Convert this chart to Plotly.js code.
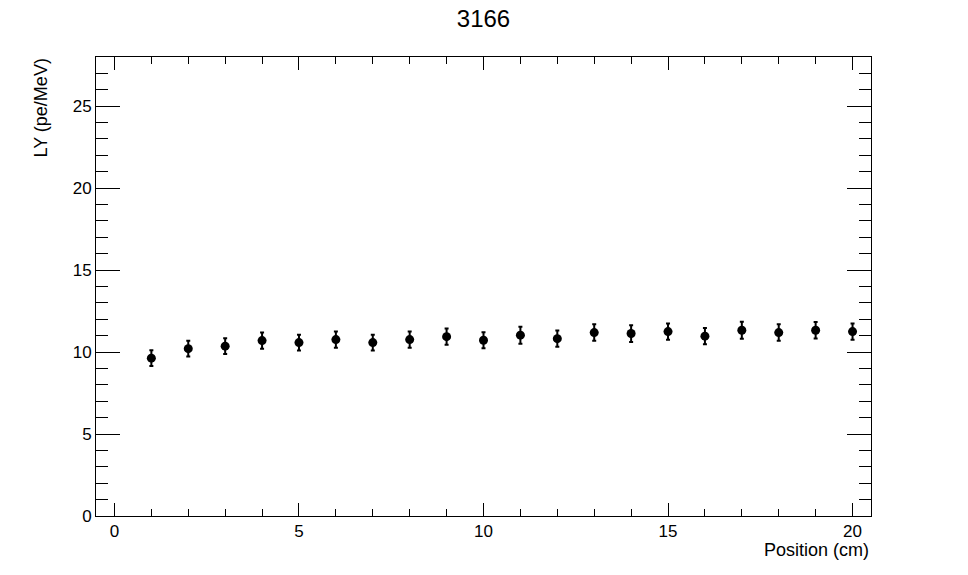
<!DOCTYPE html>
<html>
<head>
<meta charset="utf-8">
<script src="https://cdn.plot.ly/plotly-3.0.1.min.js"></script>
<style>html,body{margin:0;padding:0;background:#fff;}#chart{width:968px;height:575px;}</style>
</head>
<body>
<div id="chart"></div>
<script>
const positions = [1,2,3,4,5,6,7,8,9,10,11,12,13,14,15,16,17,18,19,20];
const lightYield = [9.63,10.21,10.36,10.70,10.58,10.76,10.58,10.76,10.94,10.72,11.03,10.82,11.19,11.13,11.25,10.97,11.33,11.19,11.33,11.25];
const lyError = [0.48,0.48,0.48,0.49,0.48,0.50,0.48,0.49,0.50,0.49,0.52,0.49,0.50,0.51,0.50,0.50,0.52,0.50,0.50,0.50];
const chartTitle = "3166";
const xTitle = "Position (cm)";
const yTitle = "LY (pe/MeV)";

const font = "Liberation Sans, Arial, Helvetica, sans-serif";

const trace = {
  x: positions, y: lightYield, type: 'scatter', mode: 'markers',
  marker: {color: '#000', size: 9, symbol: 'circle'},
  error_y: {type: 'data', array: lyError, visible: true, color: '#000', thickness: 2, width: 2},
  showlegend: false
};

const axisCommon = {
  showgrid: false, zeroline: false, showline: true, linecolor: '#000', linewidth: 1,
  mirror: 'allticks', ticks: 'inside', tickcolor: '#000', tickwidth: 1,
  tickfont: {family: font, size: 17, color: '#000'}
};

const layout = {
  width: 968, height: 575,
  paper_bgcolor: '#fff', plot_bgcolor: '#fff',
  margin: {l: 96, r: 97, t: 57, b: 59},
  title: {text: chartTitle, font: {family: font, size: 24, color: '#000'}, x: 0.4995, xanchor: 'center', y: 0.967, yanchor: 'middle'},
  xaxis: Object.assign({}, axisCommon, {
    range: [-0.5, 20.5], tick0: 0, dtick: 5, ticklen: 13,
    minor: {dtick: 1, tick0: 0, ticks: 'inside', ticklen: 7, tickcolor: '#000', showgrid: false}
  }),
  yaxis: Object.assign({}, axisCommon, {
    range: [0, 28], tick0: 0, dtick: 5, ticklen: 24,
    minor: {dtick: 1, tick0: 0, ticks: 'inside', ticklen: 12, tickcolor: '#000', showgrid: false}
  }),
  annotations: [
    {text: xTitle, xref: 'paper', yref: 'paper', x: 1, y: 0, xanchor: 'right', yanchor: 'top', yshift: -22, showarrow: false, font: {family: font, size: 18, color: '#000'}},
    {text: yTitle, xref: 'paper', yref: 'paper', x: 0, y: 1, xanchor: 'right', yanchor: 'top', xshift: -44, showarrow: false, textangle: -90, font: {family: font, size: 18, color: '#000'}}
  ]
};

Plotly.newPlot('chart', [trace], layout, {displayModeBar: false, staticPlot: true});
</script>
</body>
</html>
